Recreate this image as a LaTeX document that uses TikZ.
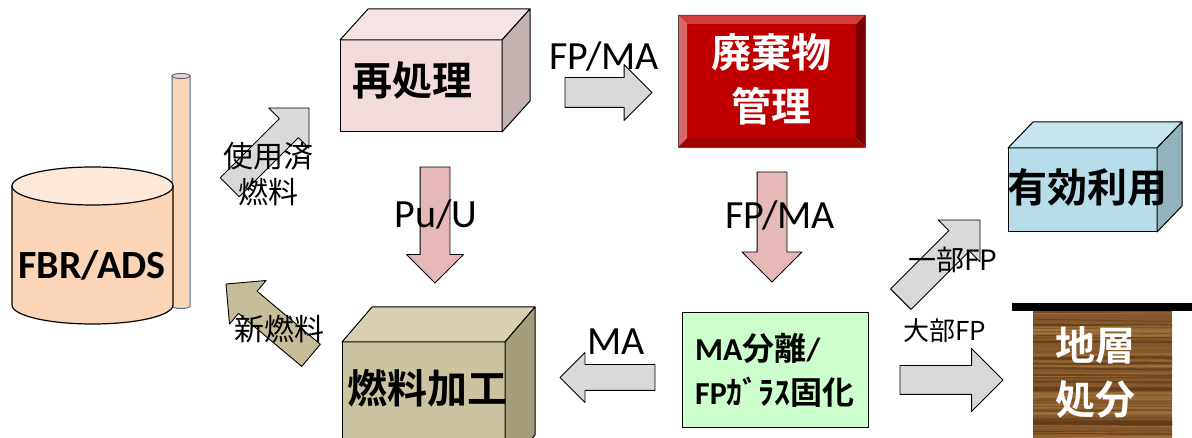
\documentclass[tikz,border=0pt]{standalone}
\usepackage{fontspec}
\setmainfont{Carlito}
\newfontfamily\jpfont{Noto Sans CJK JP}[BoldFont={Noto Sans CJK JP Bold}]
\usepackage{tikz}
\usetikzlibrary{positioning, shapes.arrows}

\newcommand\setfs[2]{\fontsize{#1}{#2}\selectfont}

\definecolor{peachbody}{HTML}{FBD5B5}
\definecolor{peachtop}{HTML}{FDE9D9}
\definecolor{pipeblue}{HTML}{4A6A94}
\definecolor{greyarrow}{HTML}{D9D9D9}
\definecolor{pinkarrow}{HTML}{E6B9B8}
\definecolor{tanarrow}{HTML}{C4BD97}
\definecolor{reprocfront}{HTML}{F2DCDB}
\definecolor{reproctop}{HTML}{F5E4E3}
\definecolor{reprocside}{HTML}{C4B2B1}
\definecolor{fuelfront}{HTML}{CCC4A0}
\definecolor{fueltop}{HTML}{D7D0B1}
\definecolor{fuelside}{HTML}{A49D7C}
\definecolor{usefront}{HTML}{B7DEE8}
\definecolor{usetop}{HTML}{C6E5ED}
\definecolor{useside}{HTML}{93B3BC}
\definecolor{sepgreen}{HTML}{CCFFCC}
\definecolor{wastered}{HTML}{C00000}
\definecolor{beveltop}{HTML}{D23C3C}
\definecolor{bevelleft}{HTML}{DA6666}
\definecolor{bevelright}{HTML}{7A0000}
\definecolor{bevelbottom}{HTML}{A30000}
\definecolor{woodbase}{HTML}{85572A}
\definecolor{wooddark}{HTML}{5E3A16}
\definecolor{woodlight}{HTML}{A8783F}

\tikzset{
  % #1 = half shaft width, #2 = how far the head sticks out past the shaft
  blockarrow/.style 2 args={single arrow, draw=black, line width=0.9pt,
    inner xsep=0pt, inner ysep=#1, single arrow head extend=#2,
    outer sep=0pt, anchor=tip},
  face/.style={draw=black, line width=1pt, inner sep=0pt, outer sep=0pt},
  latin/.style={font=\setfs{40}{48}, inner sep=0pt},
  jpflow/.style={font=\setfs{30}{36}\jpfont, inner sep=0pt, align=center},
  jpbox/.style={font=\setfs{40}{54}\jpfont\bfseries, inner sep=0pt, align=center},
}

\begin{document}
\begin{tikzpicture}[x=1pt, y=-1pt, line join=round]
\useasboundingbox (0,0) rectangle (1192,438);

% reactor: thin pipe behind the vessel
\filldraw[fill=peachbody, draw=pipeblue, line width=1pt] (172,76) -- (172,306)
  arc[start angle=180, end angle=0, x radius=9, y radius=2.5] -- (190,76) -- cycle;
\filldraw[fill=peachbody, draw=pipeblue, line width=1pt] (181,76) ellipse[x radius=9, y radius=2.5];
\filldraw[fill=peachbody, draw=black, line width=1.2pt] (12,186) -- (12,305)
  arc[start angle=180, end angle=0, x radius=80.5, y radius=19] -- (173,186) -- cycle;
\filldraw[fill=peachtop, draw=black, line width=1.2pt] (92.5,186) ellipse[x radius=80.5, y radius=19];
\node[latin, font=\setfs{40}{48}\bfseries] (fbr) at (92,265) {FBR/ADS};

% reprocessing block
\node[face, fill=reprocfront, minimum width=162, minimum height=92] (reproc) at (421,86) {};
\filldraw[face, fill=reproctop] (reproc.north west) -- ++(28,-31) -- ++(162,0) -- (reproc.north east) -- cycle;
\filldraw[face, fill=reprocside] (reproc.north east) -- ++(28,-31) -- ++(0,92) -- (reproc.south east) -- cycle;
\node[jpbox] (reproclbl) at (412,80) {再処理};

% fuel fabrication block (runs off the bottom)
\node[face, fill=fuelfront, minimum width=163, minimum height=128] (fab) at (423.5,406) {};
\filldraw[face, fill=fueltop] (fab.north west) -- ++(30,-35) -- ++(163,0) -- (fab.north east) -- cycle;
\filldraw[face, fill=fuelside] (fab.north east) -- ++(30,-35) -- ++(0,128) -- (fab.south east) -- cycle;
\node[jpbox] (fablbl) at (427,388) {燃料加工};

% waste management, bevelled
\node[fill=wastered, minimum width=169, minimum height=114, inner sep=0pt, outer sep=0pt] (waste) at (771.5,81) {};
\fill[beveltop] (678,15) -- (865,15) -- (waste.north east) -- (waste.north west) -- cycle;
\fill[bevelleft] (678,15) -- (waste.north west) -- (waste.south west) -- (678,147) -- cycle;
\fill[bevelright] (865,15) -- (865,147) -- (waste.south east) -- (waste.north east) -- cycle;
\fill[bevelbottom] (678,147) -- (waste.south west) -- (waste.south east) -- (865,147) -- cycle;
\draw[line width=0.6pt, black!70] (678,15) rectangle (865,147);
\node[jpbox, text=white] (wastelbl) at (771,79) {廃棄物\\管理};

% separation / vitrification
\node[face, fill=sepgreen, minimum width=186, minimum height=114, align=left,
  font=\setfs{32}{44}\bfseries] (sep) at (775,370) {MA{\jpfont 分離}/\\FP{\jpfont ｶﾞﾗｽ固化}};

% utilisation block
\node[face, fill=usefront, minimum width=149, minimum height=84] (use) at (1082.5,190) {};
\filldraw[face, fill=usetop] (use.north west) -- ++(25,-26) -- ++(149,0) -- (use.north east) -- cycle;
\filldraw[face, fill=useside] (use.north east) -- ++(25,-26) -- ++(0,84) -- (use.south east) -- cycle;
\node[jpbox] (uselbl) at (1087,187) {有効利用};

% geological disposal: ground line and wood-grain strata
\fill[black] (1012,303) rectangle (1192,311);
\begin{scope}
\clip (1033,311) rectangle (1172,438);
\fill[woodbase] (1033,311) rectangle (1172,438);
\pgfmathsetseed{42}
\foreach \i in {1,...,70} {
  \pgfmathsetmacro\yy{311+127*rnd}
  \pgfmathsetmacro\ww{0.6+2.2*rnd}
  \pgfmathsetmacro\xa{1033+40*rnd}
  \pgfmathsetmacro\xb{1172-40*rnd}
  \pgfmathsetmacro\bend{3*rand}
  \ifodd\i
    \draw[wooddark, line width=\ww, opacity=0.7] (\xa-40,\yy) .. controls (1080,\yy+\bend) and (1130,\yy-\bend) .. (\xb+40,\yy);
  \else
    \draw[woodlight, line width=\ww, opacity=0.6] (\xa-40,\yy) .. controls (1080,\yy-\bend) and (1130,\yy+\bend) .. (\xb+40,\yy);
  \fi
}
\end{scope}
\node[jpbox, text=white] (displbl) at (1095,372) {地層\\処分};

% flows
\node[blockarrow={13}{15}, fill=greyarrow, minimum height=112, rotate=45] (spent) at (309,108) {};
\node[blockarrow={14}{14}, fill=tanarrow, minimum height=111, rotate=140] (fresh) at (226,284) {};
\node[blockarrow={14.5}{13}, fill=greyarrow, minimum height=87] (tohlw) at (652,92.5) {};
\node[blockarrow={14.5}{13.5}, fill=pinkarrow, minimum height=116, rotate=-90] (puu) at (435,283) {};
\node[blockarrow={14.5}{15}, fill=pinkarrow, minimum height=110, rotate=-90] (tosep) at (772,282) {};
\node[blockarrow={12.5}{12}, fill=greyarrow, minimum height=95, rotate=180] (mareturn) at (560,377.5) {};
\node[blockarrow={14}{15}, fill=greyarrow, minimum height=112, rotate=45] (partfp) at (980,220) {};
\node[blockarrow={14}{17}, fill=greyarrow, minimum height=103] (mostfp) at (1003,380) {};

% flow labels
\node[jpflow] (spentlbl) at (268,174) {使用済\\燃料};
\node[jpflow] (freshlbl) at (279,329) {新燃料};
\node[latin] (tohlwlbl) at (604,56) {FP/MA};
\node[latin] (puulbl) at (436,214) {Pu/U};
\node[latin] (toseplbl) at (780,215) {FP/MA};
\node[latin] (malbl) at (616,342) {MA};
\node[font=\setfs{28}{34}\jpfont, inner sep=0pt] (partlbl) at (953,260) {一部FP};
\node[font=\setfs{26}{32}\jpfont, inner sep=0pt] (mostlbl) at (945,331) {大部FP};
\end{tikzpicture}
\end{document}
